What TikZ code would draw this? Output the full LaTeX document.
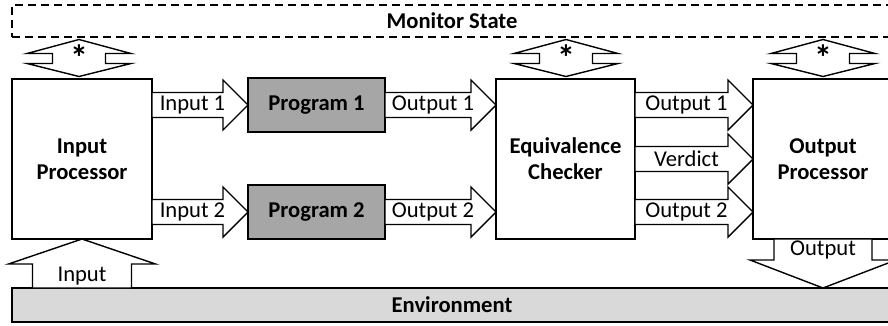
\documentclass[tikz,border=0pt]{standalone}
\usepackage{fontspec}
\setmainfont{Carlito}
\usetikzlibrary{calc}
\definecolor{progfill}{HTML}{A6A6A6}
\definecolor{envfill}{HTML}{D9D9D9}
\newcommand\dfont{\fontsize{22.6}{26}\selectfont}
\tikzset{
  box/.style={draw=black, line width=1.6pt, fill=white, outer sep=0pt, inner sep=0pt, align=center, font=\dfont\bfseries},
  progbox/.style={box, fill=progfill, minimum width=137pt, minimum height=54pt},
  bigbox/.style={box, minimum width=140pt, minimum height=160pt},
  barrow/.style={draw=black, fill=white, line width=1.4pt, line join=miter},
  lbl/.style={inner sep=0pt, font=\dfont},
  starlbl/.style={inner sep=0pt, font=\fontsize{36}{36}\selectfont\bfseries},
}
% horizontal block arrow: start, tip, label
\newcommand\rarrow[3]{%
  \draw[barrow] ($(#1)+(0,-12.5)$) -- ($(#2)+(-25,-12.5)$) -- ($(#2)+(-25,-25)$) -- (#2)
    -- ($(#2)+(-25,25)$) -- ($(#2)+(-25,12.5)$) -- ($(#1)+(0,12.5)$) -- cycle;
  \node[lbl] at ($(#1)!0.5!(#2)+(-7.5,0)$) {#3};
}
% vertical double block arrow, given its lower tip
\newcommand\dblarrow[1]{%
  \draw[barrow] (#1) -- ($(#1)+(-52,-13)$) -- ($(#1)+(-26.5,-13)$) -- ($(#1)+(-26.5,-23)$)
    -- ($(#1)+(-52,-23)$) -- ($(#1)+(0,-37)$) -- ($(#1)+(52,-23)$) -- ($(#1)+(26.5,-23)$)
    -- ($(#1)+(26.5,-13)$) -- ($(#1)+(52,-13)$) -- cycle;
  \node[starlbl, anchor=north] at ($(#1)+(0,-31.5)$) {*};
}
\begin{document}
\begin{tikzpicture}[x=1pt,y=-1pt]
\useasboundingbox (0,0) rectangle (888,325);
\clip (0,0) rectangle (888,325);
\fill[white] (0,0) rectangle (888,325);

\node[box, dash pattern=on 8pt off 5pt, minimum width=880pt, minimum height=32pt] (ms) at (452,21) {Monitor State};
\node[box, fill=envfill, minimum width=880pt, minimum height=34pt] (env) at (452,305) {Environment};

\node[bigbox] (ip) at (82,159) {Input\\Processor};
\node[progbox] (p1) at (316.5,105) {Program 1};
\node[progbox] (p2) at (316.5,212) {Program 2};
\node[bigbox, minimum width=139pt] (ec) at (565.5,159) {Equivalence\\Checker};
\node[bigbox] (op) at (823,159) {Output\\Processor};

\coordinate (i1s) at (ip.east |- p1.west);
\coordinate (i2s) at (ip.east |- p2.west);
\coordinate (o1t) at (ec.west |- p1.east);
\coordinate (o2t) at (ec.west |- p2.east);
\coordinate (r1s) at (ec.east |- p1.east);
\coordinate (r1t) at (op.west |- p1.east);
\coordinate (r2s) at (ec.east |- p2.east);
\coordinate (r2t) at (op.west |- p2.east);

\rarrow{i1s}{p1.west}{Input 1}
\rarrow{i2s}{p2.west}{Input 2}
\rarrow{p1.east}{o1t}{Output 1}
\rarrow{p2.east}{o2t}{Output 2}
\rarrow{r1s}{r1t}{Output 1}
\rarrow{ec.east}{op.west}{Verdict}
\rarrow{r2s}{r2t}{Output 2}

\coordinate (da1) at ($(ip.north)+(-3,-2.5)$);
\coordinate (da2) at ($(ec.north)+(0.5,-2.5)$);
\coordinate (da3) at ($(op.north)+(0,-2.5)$);
\dblarrow{da1}
\dblarrow{da2}
\dblarrow{da3}

% Input arrow (environment -> input processor)
\coordinate (inb) at (ip.south |- env.north);
\draw[barrow] (ip.south) -- ($(ip.south)+(73.5,25)$) -- ($(ip.south)+(49.5,25)$) -- ($(inb)+(49.5,0)$)
  -- ($(inb)+(-49.5,0)$) -- ($(ip.south)+(-49.5,25)$) -- ($(ip.south)+(-73.5,25)$) -- cycle;
\node[lbl] at ($(inb)+(0,-12)$) {Input};

% Output arrow (output processor -> environment)
\coordinate (outt) at (op.south |- env.north);
\draw[barrow] ($(op.south)+(-49,0)$) -- ($(op.south)+(49,0)$) -- ($(outt)+(49,-28)$) -- ($(outt)+(73,-28)$)
  -- (outt) -- ($(outt)+(-73,-28)$) -- ($(outt)+(-49,-28)$) -- cycle;
\node[lbl] at ($(op.south)+(0,11)$) {Output};
\end{tikzpicture}
\end{document}
